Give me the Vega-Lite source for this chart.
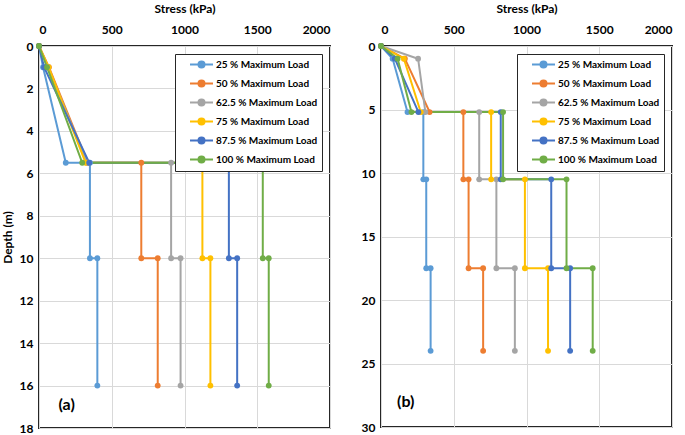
{
  "$schema": "https://vega.github.io/schema/vega-lite/v6.json",
  "padding": {"left": 0, "top": 1, "right": 0, "bottom": 0},
  "background": "white",
  "datasets": {
    "profiles": [
      {"panel": "a", "series": "25 % Maximum Load", "i": 1, "depth": 0, "stress": 0},
      {"panel": "a", "series": "25 % Maximum Load", "i": 2, "depth": 1, "stress": 28},
      {"panel": "a", "series": "25 % Maximum Load", "i": 3, "depth": 5.5, "stress": 184},
      {"panel": "a", "series": "25 % Maximum Load", "i": 4, "depth": 5.5, "stress": 350},
      {"panel": "a", "series": "25 % Maximum Load", "i": 5, "depth": 10, "stress": 350},
      {"panel": "a", "series": "25 % Maximum Load", "i": 6, "depth": 10, "stress": 401},
      {"panel": "a", "series": "25 % Maximum Load", "i": 7, "depth": 16, "stress": 401},
      {"panel": "a", "series": "50 % Maximum Load", "i": 1, "depth": 0, "stress": 0},
      {"panel": "a", "series": "50 % Maximum Load", "i": 2, "depth": 1, "stress": 68},
      {"panel": "a", "series": "50 % Maximum Load", "i": 3, "depth": 5.5, "stress": 335},
      {"panel": "a", "series": "50 % Maximum Load", "i": 4, "depth": 5.5, "stress": 703},
      {"panel": "a", "series": "50 % Maximum Load", "i": 5, "depth": 10, "stress": 703},
      {"panel": "a", "series": "50 % Maximum Load", "i": 6, "depth": 10, "stress": 816},
      {"panel": "a", "series": "50 % Maximum Load", "i": 7, "depth": 16, "stress": 816},
      {"panel": "a", "series": "62.5 % Maximum Load", "i": 1, "depth": 0, "stress": 0},
      {"panel": "a", "series": "62.5 % Maximum Load", "i": 2, "depth": 1, "stress": 62},
      {"panel": "a", "series": "62.5 % Maximum Load", "i": 3, "depth": 5.5, "stress": 330},
      {"panel": "a", "series": "62.5 % Maximum Load", "i": 4, "depth": 5.5, "stress": 908},
      {"panel": "a", "series": "62.5 % Maximum Load", "i": 5, "depth": 10, "stress": 908},
      {"panel": "a", "series": "62.5 % Maximum Load", "i": 6, "depth": 10, "stress": 973},
      {"panel": "a", "series": "62.5 % Maximum Load", "i": 7, "depth": 16, "stress": 973},
      {"panel": "a", "series": "75 % Maximum Load", "i": 1, "depth": 0, "stress": 0},
      {"panel": "a", "series": "75 % Maximum Load", "i": 2, "depth": 1, "stress": 66},
      {"panel": "a", "series": "75 % Maximum Load", "i": 3, "depth": 5.5, "stress": 320},
      {"panel": "a", "series": "75 % Maximum Load", "i": 4, "depth": 5.5, "stress": 1123},
      {"panel": "a", "series": "75 % Maximum Load", "i": 5, "depth": 10, "stress": 1123},
      {"panel": "a", "series": "75 % Maximum Load", "i": 6, "depth": 10, "stress": 1178},
      {"panel": "a", "series": "75 % Maximum Load", "i": 7, "depth": 16, "stress": 1178},
      {"panel": "a", "series": "87.5 % Maximum Load", "i": 1, "depth": 0, "stress": 0},
      {"panel": "a", "series": "87.5 % Maximum Load", "i": 2, "depth": 1, "stress": 35},
      {"panel": "a", "series": "87.5 % Maximum Load", "i": 3, "depth": 5.5, "stress": 345},
      {"panel": "a", "series": "87.5 % Maximum Load", "i": 4, "depth": 5.5, "stress": 1305},
      {"panel": "a", "series": "87.5 % Maximum Load", "i": 5, "depth": 10, "stress": 1305},
      {"panel": "a", "series": "87.5 % Maximum Load", "i": 6, "depth": 10, "stress": 1362},
      {"panel": "a", "series": "87.5 % Maximum Load", "i": 7, "depth": 16, "stress": 1362},
      {"panel": "a", "series": "100 % Maximum Load", "i": 1, "depth": 0, "stress": 0},
      {"panel": "a", "series": "100 % Maximum Load", "i": 2, "depth": 1, "stress": 55},
      {"panel": "a", "series": "100 % Maximum Load", "i": 3, "depth": 5.5, "stress": 297},
      {"panel": "a", "series": "100 % Maximum Load", "i": 4, "depth": 5.5, "stress": 1538},
      {"panel": "a", "series": "100 % Maximum Load", "i": 5, "depth": 10, "stress": 1538},
      {"panel": "a", "series": "100 % Maximum Load", "i": 6, "depth": 10, "stress": 1579},
      {"panel": "a", "series": "100 % Maximum Load", "i": 7, "depth": 16, "stress": 1579},

      {"panel": "b", "series": "25 % Maximum Load", "i": 1, "depth": 0, "stress": 0},
      {"panel": "b", "series": "25 % Maximum Load", "i": 2, "depth": 1, "stress": 80},
      {"panel": "b", "series": "25 % Maximum Load", "i": 3, "depth": 5.2, "stress": 182},
      {"panel": "b", "series": "25 % Maximum Load", "i": 4, "depth": 5.2, "stress": 291},
      {"panel": "b", "series": "25 % Maximum Load", "i": 5, "depth": 10.5, "stress": 291},
      {"panel": "b", "series": "25 % Maximum Load", "i": 6, "depth": 10.5, "stress": 311},
      {"panel": "b", "series": "25 % Maximum Load", "i": 7, "depth": 17.5, "stress": 311},
      {"panel": "b", "series": "25 % Maximum Load", "i": 8, "depth": 17.5, "stress": 341},
      {"panel": "b", "series": "25 % Maximum Load", "i": 9, "depth": 24, "stress": 341},
      {"panel": "b", "series": "50 % Maximum Load", "i": 1, "depth": 0, "stress": 0},
      {"panel": "b", "series": "50 % Maximum Load", "i": 2, "depth": 1, "stress": 164},
      {"panel": "b", "series": "50 % Maximum Load", "i": 3, "depth": 5.2, "stress": 334},
      {"panel": "b", "series": "50 % Maximum Load", "i": 4, "depth": 5.2, "stress": 566},
      {"panel": "b", "series": "50 % Maximum Load", "i": 5, "depth": 10.5, "stress": 566},
      {"panel": "b", "series": "50 % Maximum Load", "i": 6, "depth": 10.5, "stress": 602},
      {"panel": "b", "series": "50 % Maximum Load", "i": 7, "depth": 17.5, "stress": 602},
      {"panel": "b", "series": "50 % Maximum Load", "i": 8, "depth": 17.5, "stress": 702},
      {"panel": "b", "series": "50 % Maximum Load", "i": 9, "depth": 24, "stress": 702},
      {"panel": "b", "series": "62.5 % Maximum Load", "i": 1, "depth": 0, "stress": 0},
      {"panel": "b", "series": "62.5 % Maximum Load", "i": 2, "depth": 1, "stress": 255},
      {"panel": "b", "series": "62.5 % Maximum Load", "i": 3, "depth": 5.2, "stress": 305},
      {"panel": "b", "series": "62.5 % Maximum Load", "i": 4, "depth": 5.2, "stress": 675},
      {"panel": "b", "series": "62.5 % Maximum Load", "i": 5, "depth": 10.5, "stress": 675},
      {"panel": "b", "series": "62.5 % Maximum Load", "i": 6, "depth": 10.5, "stress": 793},
      {"panel": "b", "series": "62.5 % Maximum Load", "i": 7, "depth": 17.5, "stress": 793},
      {"panel": "b", "series": "62.5 % Maximum Load", "i": 8, "depth": 17.5, "stress": 920},
      {"panel": "b", "series": "62.5 % Maximum Load", "i": 9, "depth": 24, "stress": 920},
      {"panel": "b", "series": "75 % Maximum Load", "i": 1, "depth": 0, "stress": 0},
      {"panel": "b", "series": "75 % Maximum Load", "i": 2, "depth": 1, "stress": 157},
      {"panel": "b", "series": "75 % Maximum Load", "i": 3, "depth": 5.2, "stress": 273},
      {"panel": "b", "series": "75 % Maximum Load", "i": 4, "depth": 5.2, "stress": 757},
      {"panel": "b", "series": "75 % Maximum Load", "i": 5, "depth": 10.5, "stress": 757},
      {"panel": "b", "series": "75 % Maximum Load", "i": 6, "depth": 10.5, "stress": 989},
      {"panel": "b", "series": "75 % Maximum Load", "i": 7, "depth": 17.5, "stress": 989},
      {"panel": "b", "series": "75 % Maximum Load", "i": 8, "depth": 17.5, "stress": 1148},
      {"panel": "b", "series": "75 % Maximum Load", "i": 9, "depth": 24, "stress": 1148},
      {"panel": "b", "series": "87.5 % Maximum Load", "i": 1, "depth": 0, "stress": 0},
      {"panel": "b", "series": "87.5 % Maximum Load", "i": 2, "depth": 1, "stress": 95},
      {"panel": "b", "series": "87.5 % Maximum Load", "i": 3, "depth": 5.2, "stress": 257},
      {"panel": "b", "series": "87.5 % Maximum Load", "i": 4, "depth": 5.2, "stress": 823},
      {"panel": "b", "series": "87.5 % Maximum Load", "i": 5, "depth": 10.5, "stress": 823},
      {"panel": "b", "series": "87.5 % Maximum Load", "i": 6, "depth": 10.5, "stress": 1170},
      {"panel": "b", "series": "87.5 % Maximum Load", "i": 7, "depth": 17.5, "stress": 1170},
      {"panel": "b", "series": "87.5 % Maximum Load", "i": 8, "depth": 17.5, "stress": 1300},
      {"panel": "b", "series": "87.5 % Maximum Load", "i": 9, "depth": 24, "stress": 1300},
      {"panel": "b", "series": "100 % Maximum Load", "i": 1, "depth": 0, "stress": 0},
      {"panel": "b", "series": "100 % Maximum Load", "i": 2, "depth": 1, "stress": 114},
      {"panel": "b", "series": "100 % Maximum Load", "i": 3, "depth": 5.2, "stress": 209},
      {"panel": "b", "series": "100 % Maximum Load", "i": 4, "depth": 5.2, "stress": 839},
      {"panel": "b", "series": "100 % Maximum Load", "i": 5, "depth": 10.5, "stress": 839},
      {"panel": "b", "series": "100 % Maximum Load", "i": 6, "depth": 10.5, "stress": 1275},
      {"panel": "b", "series": "100 % Maximum Load", "i": 7, "depth": 17.5, "stress": 1275},
      {"panel": "b", "series": "100 % Maximum Load", "i": 8, "depth": 17.5, "stress": 1455},
      {"panel": "b", "series": "100 % Maximum Load", "i": 9, "depth": 24, "stress": 1455}
    ],
    "labels": [
      {"panel": "a", "label": "(a)", "depth": 16.9, "stress": 190},
      {"panel": "b", "label": "(b)", "depth": 28, "stress": 170}
    ]
  },
  "config": {
    "font": "Lato",
    "view": {"stroke": "#262626", "strokeWidth": 2},
    "axis": {
      "labelFont": "Lato", "labelFontWeight": "bold", "labelFontSize": 12, "labelColor": "#000",
      "titleFont": "Lato", "titleFontWeight": "bold", "titleFontSize": 12, "titleColor": "#000",
      "ticks": false, "domain": false, "grid": true, "gridColor": "#d9d9d9", "gridWidth": 1,
      "format": "d"
    },
    "axisX": {"labelPadding": 10},
    "axisY": {"labelPadding": 6},
    "legend": {
      "orient": "top-right", "offset": 8, "title": null,
      "strokeColor": "#262626", "fillColor": "white", "padding": 4,
      "labelFont": "Lato", "labelFontWeight": "bold", "labelFontSize": 10, "labelColor": "#000",
      "symbolType": "M-2.09,0L2.09,0M-0.55,0A0.55,0.55,0,1,1,0.55,0A0.55,0.55,0,1,1,-0.55,0Z",
      "symbolSize": 121, "symbolStrokeWidth": 2, "rowPadding": 4, "symbolOffset": 16, "labelOffset": 8
    }
  },
  "resolve": {"legend": {"color": "independent"}},
  "spacing": 29,
  "hconcat": [
    {
      "width": 291, "height": 382,
      "layer": [
        {
          "data": {"name": "profiles"},
          "transform": [{"filter": "datum.panel === 'a'"}],
          "mark": {"type": "line", "strokeWidth": 2},
          "encoding": {
            "x": {"field": "stress", "type": "quantitative", "scale": {"domain": [0, 2000], "nice": false}, "axis": {"orient": "top", "title": "Stress (kPa)", "values": [0, 500, 1000, 1500, 2000], "titlePadding": 8}},
            "y": {"field": "depth", "type": "quantitative", "scale": {"domain": [0, 18], "reverse": true, "nice": false}, "axis": {"title": "Depth (m)", "values": [0, 2, 4, 6, 8, 10, 12, 14, 16, 18], "titlePadding": 5}},
            "color": {"field": "series", "type": "nominal", "sort": null,
              "scale": {"domain": ["25 % Maximum Load", "50 % Maximum Load", "62.5 % Maximum Load", "75 % Maximum Load", "87.5 % Maximum Load", "100 % Maximum Load"],
                        "range": ["#5B9BD5", "#ED7D31", "#A5A5A5", "#FFC000", "#4472C4", "#70AD47"]},
              "legend": {"encode": {"symbols": {"update": {"fill": {"scale": "color", "field": "value"}, "stroke": {"scale": "color", "field": "value"}}}}}},
            "order": {"field": "i", "type": "quantitative"}
          }
        },
        {
          "data": {"name": "profiles"},
          "transform": [{"filter": "datum.panel === 'a'"}],
          "mark": {"type": "point", "filled": true, "size": 34, "opacity": 1},
          "encoding": {
            "x": {"field": "stress", "type": "quantitative"},
            "y": {"field": "depth", "type": "quantitative"},
            "color": {"field": "series", "type": "nominal", "sort": null}
          }
        },
        {
          "data": {"name": "labels"},
          "transform": [{"filter": "datum.panel === 'a'"}],
          "mark": {"type": "text", "font": "Lato", "fontWeight": "bold", "fontSize": 16, "color": "#000"},
          "encoding": {
            "x": {"field": "stress", "type": "quantitative"},
            "y": {"field": "depth", "type": "quantitative"},
            "text": {"field": "label"}
          }
        }
      ]
    },
    {
      "width": 291, "height": 381,
      "layer": [
        {
          "data": {"name": "profiles"},
          "transform": [{"filter": "datum.panel === 'b'"}],
          "mark": {"type": "line", "strokeWidth": 2},
          "encoding": {
            "x": {"field": "stress", "type": "quantitative", "scale": {"domain": [0, 2000], "nice": false}, "axis": {"orient": "top", "title": "Stress (kPa)", "values": [0, 500, 1000, 1500, 2000], "titlePadding": 8}},
            "y": {"field": "depth", "type": "quantitative", "scale": {"domain": [0, 30], "reverse": true, "nice": false}, "axis": {"title": null, "values": [0, 5, 10, 15, 20, 25, 30]}},
            "color": {"field": "series", "type": "nominal", "sort": null,
              "legend": {"encode": {"symbols": {"update": {"fill": {"scale": "color", "field": "value"}, "stroke": {"scale": "color", "field": "value"}}}}}},
            "order": {"field": "i", "type": "quantitative"}
          }
        },
        {
          "data": {"name": "profiles"},
          "transform": [{"filter": "datum.panel === 'b'"}],
          "mark": {"type": "point", "filled": true, "size": 34, "opacity": 1},
          "encoding": {
            "x": {"field": "stress", "type": "quantitative"},
            "y": {"field": "depth", "type": "quantitative"},
            "color": {"field": "series", "type": "nominal", "sort": null}
          }
        },
        {
          "data": {"name": "labels"},
          "transform": [{"filter": "datum.panel === 'b'"}],
          "mark": {"type": "text", "font": "Lato", "fontWeight": "bold", "fontSize": 16, "color": "#000"},
          "encoding": {
            "x": {"field": "stress", "type": "quantitative"},
            "y": {"field": "depth", "type": "quantitative"},
            "text": {"field": "label"}
          }
        }
      ]
    }
  ]
}
